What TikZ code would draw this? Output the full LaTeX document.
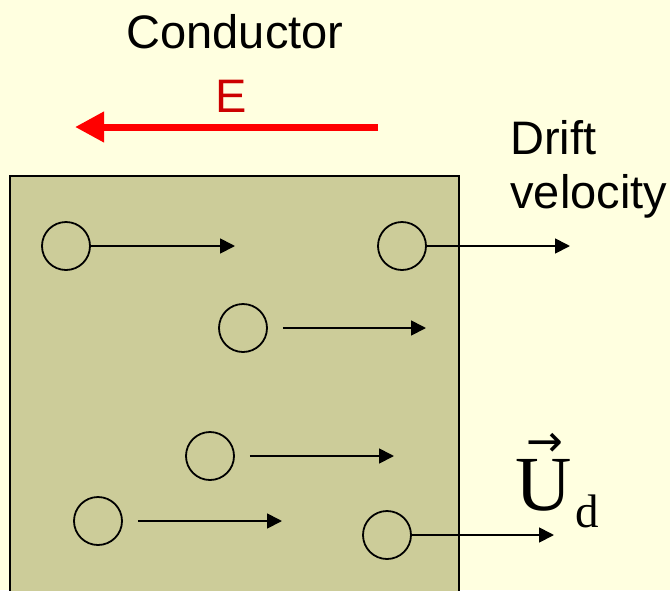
\documentclass[tikz,border=0pt]{standalone}
\usepackage{fontspec}
\setmainfont{Liberation Serif}
\newfontfamily\labelfont{Liberation Sans}
\newfontfamily\symbolfont{DejaVu Sans}
\usepackage{tikz}
\usetikzlibrary{arrows.meta}

\definecolor{paper}{RGB}{255,255,224}
\definecolor{metal}{RGB}{204,204,153}
\definecolor{fieldred}{RGB}{255,0,0}
\definecolor{labelred}{RGB}{204,0,0}

% vector arrow set over a letter
\newcommand{\overvec}[1]{\rlap{\kern5.5pt\raisebox{27pt}{\symbolfont\fontsize{22}{22}\selectfont →}}#1}

\begin{document}
\begin{tikzpicture}[
  x=0.5pt, y=-0.5pt,
  caption/.style={font=\labelfont\fontsize{23.5}{27}\selectfont, inner sep=0pt},
  electron/.style={circle, draw, line width=0.9pt, minimum size=24pt, inner sep=0pt},
  drift/.style={-{Triangle[length=7.5pt, width=7.5pt]}, line width=0.9pt},
  field/.style={-{Triangle[length=14.5pt, width=14.5pt]}, line width=3.5pt, fieldred}
]
\fill[paper] (0,0) rectangle (670,590);
\clip (0,0) rectangle (670,590);

% conductor slab
\draw[fill=metal, line width=1pt] (10,176) rectangle (459,620);

\node[caption, anchor=base] (cond) at (235,48) {Conductor};

% applied field
\node[caption, anchor=base, text=labelred] (elab) at (231,112) {E};
\coordinate (e0) at (378,127);
\coordinate (e1) at (75,127);
\draw[field] (e0) -- (e1);

\node[caption, anchor=north west, align=left] (dv) at (510,120) {Drift\\velocity};

% electrons and their drift
\foreach \i/\cx/\cy/\gap/\tip in {1/66/246/0/235, 2/402/246/0/570, 3/243/328/7.5/426,
                                 4/210/456/7.5/394, 5/98/521/7.5/282, 6/387/535/0/554} {
  \node[electron] (q\i) at (\cx,\cy) {};
  \coordinate (v\i) at (\tip,\cy);
  \draw[drift, shorten <=\gap pt] (q\i.east) -- (v\i);
}

\node[anchor=base west, inner sep=0pt] (ud) at (515,510)
  {\fontsize{39}{44}\selectfont\overvec{U}\kern2pt\raisebox{-8.5pt}{\fontsize{23.5}{28}\selectfont d}};

\end{tikzpicture}
\end{document}
